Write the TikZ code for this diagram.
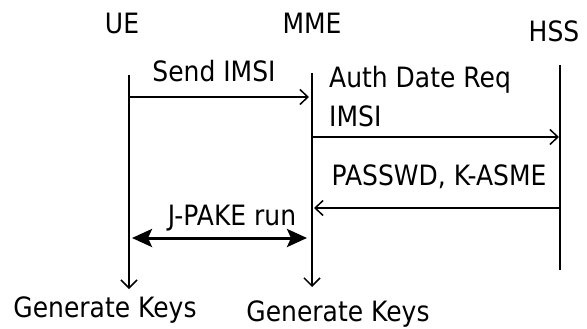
\documentclass[tikz,border=0pt]{standalone}
\usepackage{fontspec}
\setmainfont{DejaVu Sans}
\usetikzlibrary{arrows.meta}
\newcommand\talltext[1]{\scalebox{1}[1.12]{#1}}
\begin{document}
\begin{tikzpicture}[x=1pt,y=-1pt,
  lbl/.style={inner sep=0pt,font=\fontsize{25}{30}\selectfont},
  life/.style={line width=1.5pt,-{Straight Barb[length=8pt,width=16pt,line width=1.5pt]}},
  lifeplain/.style={line width=1.5pt},
  msg/.style={line width=1.6pt,-{Straight Barb[length=8pt,width=15pt,line width=1.5pt]}},
  bidir/.style={line width=3pt,{Stealth[length=20pt,width=18pt,inset=4pt]}-{Stealth[length=20pt,width=18pt,inset=4pt]}}]
\useasboundingbox (0,0) rectangle (587,329);
% entity labels
\node[lbl,anchor=base] (ue) at (122,34) {\talltext{UE}};
\node[lbl,anchor=base] (mme) at (312,34) {\talltext{MME}};
\node[lbl,anchor=base] (hss) at (554,42) {\talltext{HSS}};
% lifeline coordinates
\coordinate (ueT) at (129,75);
\coordinate (ueB) at (129,289);
\coordinate (mmeT) at (312,73);
\coordinate (mmeB) at (312,287);
\coordinate (hssT) at (560,65);
\coordinate (hssB) at (560,270);
\draw[life] (ueT) -- (ueB);
\draw[life] (mmeT) -- (mmeB);
\draw[lifeplain] (hssT) -- (hssB);
% messages
\coordinate (m1a) at (129,97);  \coordinate (m1b) at (309,97);
\coordinate (m2a) at (312,137); \coordinate (m2b) at (559,137);
\coordinate (m3a) at (560,208); \coordinate (m3b) at (314,208);
\coordinate (m4a) at (132,238); \coordinate (m4b) at (307,238);
\draw[msg] (m1a) -- (m1b);
\draw[msg] (m2a) -- (m2b);
\draw[msg] (m3a) -- (m3b);
\draw[bidir] (m4a) -- (m4b);
% message labels
\node[lbl,anchor=base] (t1) at (214,82) {\talltext{Send IMSI}};
\node[lbl,anchor=base west] (t2) at (329,88) {\talltext{Auth Date Req}};
\node[lbl,anchor=base west] (t2b) at (329,127) {\talltext{IMSI}};
\node[lbl,anchor=base] (t3) at (439,185) {\talltext{PASSWD, K-ASME}};
\node[lbl,anchor=base] (t4) at (232,225) {\talltext{J-PAKE run}};
% results
\node[lbl,anchor=base] (g1) at (105,317) {\talltext{Generate Keys}};
\node[lbl,anchor=base] (g2) at (338,321) {\talltext{Generate Keys}};
\end{tikzpicture}
\end{document}
